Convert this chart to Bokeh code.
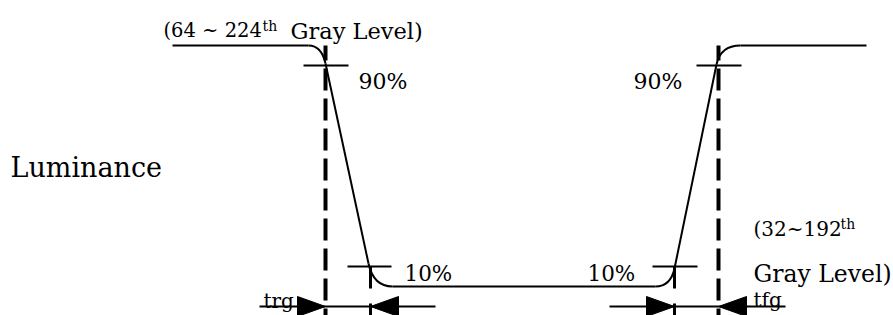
from bokeh.plotting import figure
from bokeh.models import Range1d
from bokeh.core.properties import value
from bokeh.embed import file_html
from bokeh.resources import INLINE

# ---- diagram data (pixel-like units of the drawing) ----
# time instants: 90% point of fall, 10% point of fall, 10% point of rise, 90% point of rise
t_fall90, t_fall10, t_rise10, t_rise90 = 325, 370, 674, 718
x_start, x_end = 172, 866
# luminance levels (screen-down units)
lvl_high, lvl_90, lvl_10, lvl_low = 45, 64, 266, 286
arrow_y = 306

labels = ["(64 ~ 224", "th", "Gray Level)", "90%", "90%", "Luminance",
          "10%", "10%", "(32~192", "th", "Gray Level)", "trg", "tfg"]
label_x = [163, 262, 290, 358, 633, 10, 404, 587, 753, 840, 753, 263, 753]
label_y = [30, 25, 30, 81, 81, 167, 273, 273, 228, 223, 273, 300, 299]
label_size = ["19.5px", "14px", "22.5px", "22px", "22px", "27px", "21.5px", "21.5px",
              "20px", "14px", "23.5px", "20px", "20px"]

FONT = "DejaVu Serif"

p = figure(width=893, height=315, output_backend="svg", toolbar_location=None,
           x_range=Range1d(0, 893), y_range=Range1d(315, 0),
           min_border=0, outline_line_color=None)
p.axis.visible = False
p.grid.visible = False

# ---- waveform ----
p.segment(x0=[x_start, t_fall90, t_fall10 + 22, t_rise10, t_rise90 + 22],
          y0=[lvl_high, lvl_90 - 1, lvl_low, lvl_10 + 2, lvl_high],
          x1=[t_fall90 - 17, t_fall10 - 2, t_rise10 - 19, t_rise90 - 2, x_end],
          y1=[lvl_high, lvl_10 - 3, lvl_low, lvl_90, lvl_high],
          line_color="black", line_width=2)
p.quadratic(x0=[t_fall90 - 17, t_fall10 - 2, t_rise10 - 19, t_rise90 - 2],
            y0=[lvl_high, lvl_10 - 3, lvl_low, lvl_90],
            cx=[t_fall90 - 4, t_fall10 + 3, t_rise10 - 4, t_rise90 + 2],
            cy=[lvl_high, lvl_low, lvl_low, lvl_high],
            x1=[t_fall90, t_fall10 + 22, t_rise10, t_rise90 + 22],
            y1=[lvl_90 - 1, lvl_low, lvl_10 + 2, lvl_high],
            line_color="black", line_width=2)

# ---- 90% / 10% horizontal ticks ----
p.segment(x0=[t_fall90 - 22, t_rise90 - 22, t_fall10 - 23, t_rise10 - 22],
          y0=[lvl_90 + 1, lvl_90 + 1, lvl_10, lvl_10],
          x1=[t_fall90 + 23, t_rise90 + 23, t_fall10 + 21, t_rise10 + 23],
          y1=[lvl_90 + 1, lvl_90 + 1, lvl_10, lvl_10],
          line_color="black", line_width=2)

# ---- dashed verticals ----
p.segment(x0=[t_fall90, t_rise90], y0=[lvl_high, lvl_high],
          x1=[t_fall90, t_rise90], y1=[320, 320],
          line_color="black", line_width=4, line_dash="22 8", line_dash_offset=7)
p.segment(x0=[t_fall10, t_rise10], y0=[lvl_10, lvl_10],
          x1=[t_fall10, t_rise10], y1=[320, 320],
          line_color="black", line_width=3, line_dash="22 15")

# ---- dimension arrows ----
p.segment(x0=[t_fall90 - 66, t_rise10 - 65], y0=[arrow_y, arrow_y],
          x1=[t_fall10 + 65, t_rise90 + 67], y1=[arrow_y, arrow_y],
          line_color="black", line_width=2)
heads_tip = [t_fall90, t_fall10, t_rise10, t_rise90]
heads_dir = [1, -1, 1, -1]
hx = [[t, t - d * 28, t - d * 28] for t, d in zip(heads_tip, heads_dir)]
hy = [[arrow_y, arrow_y - 10, arrow_y + 10] for _ in heads_tip]
p.patches(hx, hy, fill_color="black", line_color="black", line_width=1)

# ---- labels ----
for txt, x, y, s in zip(labels, label_x, label_y, label_size):
    p.text(x=[x], y=[y], text=[txt], text_font=value(FONT), text_font_size=s,
           text_color="black", text_baseline="alphabetic", text_align="left")

open("out.html", "w").write(file_html(p, INLINE))
